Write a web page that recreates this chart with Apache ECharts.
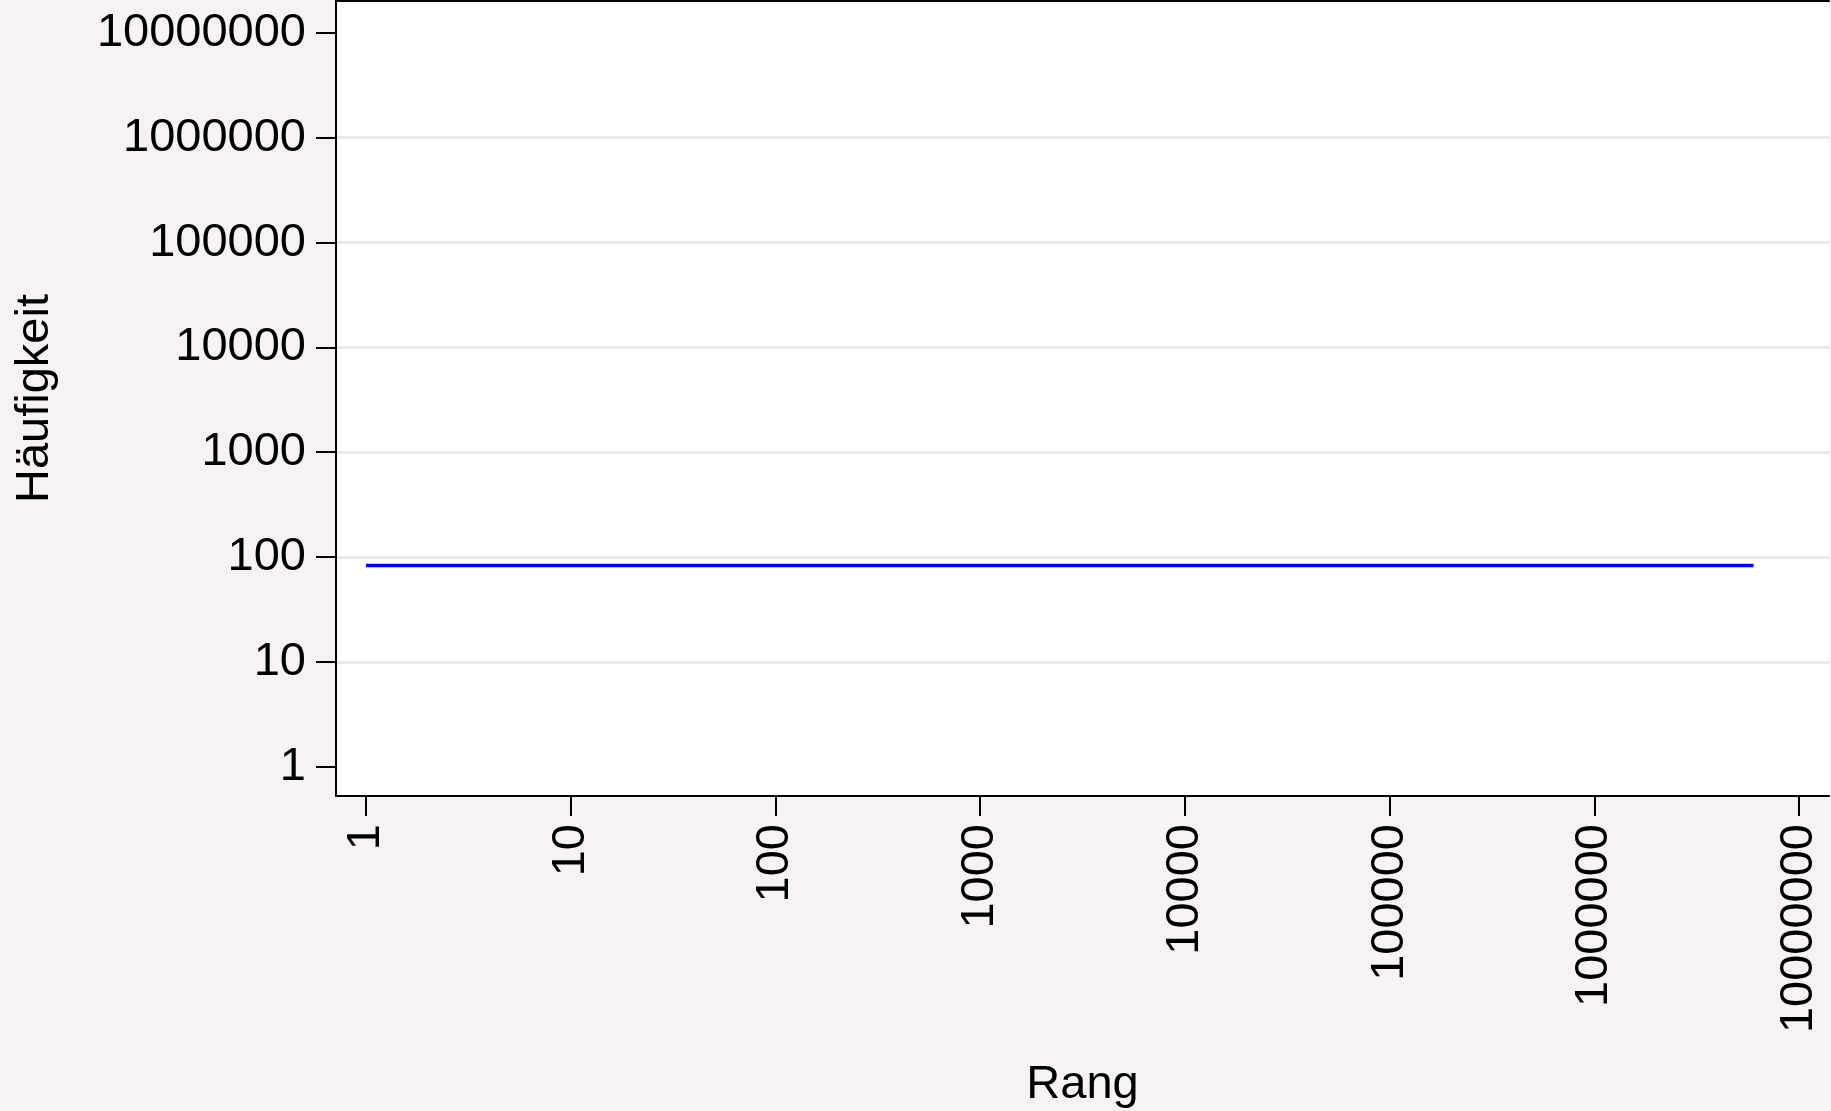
<!DOCTYPE html>
<html>
<head>
<meta charset="utf-8">
<script src="https://cdn.jsdelivr.net/npm/echarts@6/dist/echarts.min.js"></script>
<style>
  html, body { margin: 0; padding: 0; background: #f6f2f6; }
  #chart { width: 1831px; height: 1111px; }
</style>
</head>
<body>
<div id="chart"></div>
<script>
// Rank/frequency: a flat frequency over the whole rank range
const ranks = [1, 6000000];
const freqs = [83, 83];

// Decade tick values on both log axes
const xTicks = [1, 10, 100, 1000, 10000, 100000, 1000000, 10000000];
const yTicks = [1, 10, 100, 1000, 10000, 100000, 1000000, 10000000];

const FONT = '"Liberation Sans", Arial, sans-serif';
const FS = 47;

const chart = echarts.init(document.getElementById('chart'), null, { renderer: 'canvas' });

const gridColor = '#ebe8eb';
const none = 'rgba(0,0,0,0)';

chart.setOption({
  backgroundColor: '#f6f2f6',
  animation: false,
  grid: {
    left: 336, right: 2, top: 1, bottom: 315,
    containLabel: false,
    outerBoundsMode: 'none',
    show: true, backgroundColor: '#ffffff', borderWidth: 0
  },
  xAxis: [{
    type: 'log',
    logBase: 10,
    min: Math.pow(10, -0.1465),
    max: Math.pow(10, 7.1465),
    name: 'Rang',
    nameLocation: 'middle',
    nameGap: 266,
    nameTextStyle: { fontFamily: FONT, fontSize: FS, color: '#000' },
    axisLine: { show: true, onZero: false, lineStyle: { color: '#000', width: 2 } },
    axisTick: { show: true, length: 20, lineStyle: { color: '#000', width: 2 }, customValues: xTicks },
    axisLabel: {
      show: true, rotate: 90, margin: 28,
      fontFamily: FONT, fontSize: FS, color: '#000',
      customValues: xTicks,
      formatter: v => String(Math.round(v))
    },
    splitLine: { show: false }
  }, {
    // frame line along the top of the plot area
    type: 'value', position: 'top', min: 0, max: 1,
    axisLine: { show: true, lineStyle: { color: '#000', width: 2 } },
    axisTick: { show: false }, axisLabel: { show: false }, splitLine: { show: false }
  }],
  yAxis: {
    type: 'log',
    logBase: 10,
    min: Math.pow(10, -0.279),
    max: Math.pow(10, 7.304),
    name: 'Häufigkeit',
    nameLocation: 'middle',
    nameGap: 277,
    nameTextStyle: { fontFamily: FONT, fontSize: FS, color: '#000' },
    axisLine: { show: true, onZero: false, lineStyle: { color: '#000', width: 2 } },
    axisTick: { show: true, length: 20, lineStyle: { color: '#000', width: 2 }, customValues: yTicks },
    axisLabel: {
      show: true, margin: 30,
      fontFamily: FONT, fontSize: FS, color: '#000',
      padding: [5, 0, 0, 0],
      customValues: yTicks,
      formatter: v => String(Math.round(v))
    },
    splitLine: {
      show: true,
      lineStyle: { width: 3, color: [none, gridColor, gridColor, gridColor, gridColor, gridColor, gridColor, none] }
    }
  },
  series: [{
    type: 'line',
    xAxisIndex: 0,
    data: ranks.map((r, i) => [r, freqs[i]]),
    showSymbol: false,
    symbol: 'none',
    lineStyle: { color: '#0000ff', width: 3.5, cap: 'butt' },
    silent: true
  }]
});
</script>
</body>
</html>
